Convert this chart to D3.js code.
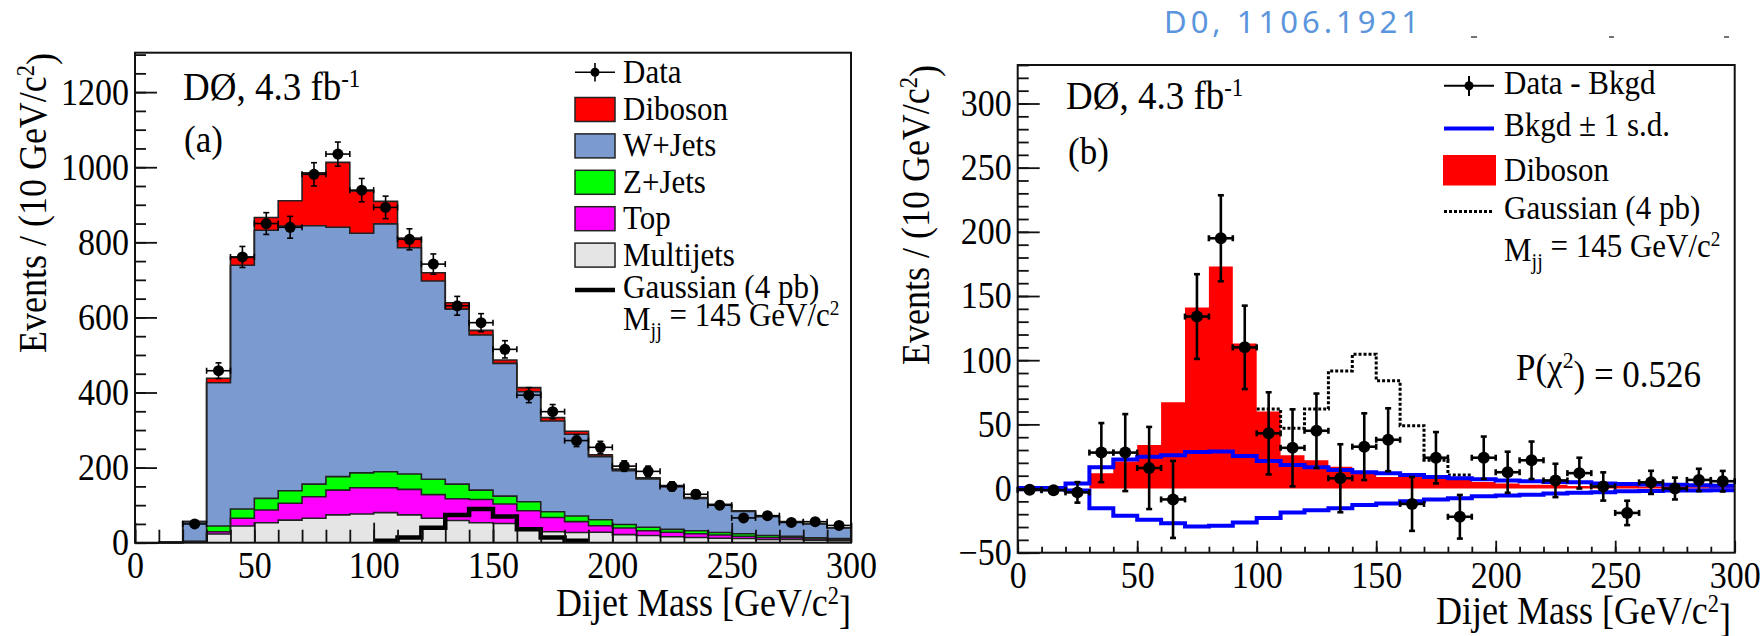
<!DOCTYPE html>
<html>
<head>
<meta charset="utf-8">
<script src="https://cdn.jsdelivr.net/npm/d3@7"></script>
<style>
  body { margin: 0; background: #fff; }
  text { font-family: "Liberation Serif", "Times New Roman", serif; fill: #000; }
</style>
</head>
<body>
<svg id="chart" width="1764" height="636"></svg>
<script>
// bins of 10 GeV/c^2, low edges
const binLow = [0,10,20,30,40,50,60,70,80,90,100,110,120,130,140,150,160,170,180,190,200,210,220,230,240,250,260,270,280,290];

// (a) stacked backgrounds, events per bin
const multijets = [0,1,3,23,44.5,53,60,65,74,76.5,80,74,65,59,53,51,35.5,29,27,28,21.6,19,16,14,12,11,8.6,8.6,6.5,5.4];
const topQuark  = [0,0,0,6,20.5,34,45,57.5,66,70,66.5,68,63,58,62,52,49.5,38,29,17,17.4,13,12,10,8.5,6,5.4,4.4,3.5,2.1];
const zJets     = [0,0,0,15.5,24.7,31,33.5,33.5,36,39.5,42.5,41,41,39,25,21,24,15.5,15,16,9.5,9,7.6,8,6.5,7,5,4,3,3.5];
const wJets     = [0,0,53,381.5,649.3,714,704.8,688,664,638,660,602.6,528,466,413,353.6,293,241.5,218,168,143.5,129,113.4,86,73,59,50,38,37,28];
const diboson   = [0,0,0,12,21,34,67.3,141,173,113,60,26,22,17,12.5,9,11,9,8,5,4,3,3,2,2,2,1.5,1.5,1,1];

// (a) data
const dataMass   = [25,35,45,55,65,75,85,95,105,115,125,135,145,155,165,175,185,195,205,215,225,235,245,255,265,275,285,295];
const dataCounts = [50,458,761,850,840,981,1035,939,893,808,742,631,586,515,393,349,272,254,204,190,150,129,100,66,72,54,56,46];
const dataErr    = [7,21,28,29,29,31,32,31,30,28,27,25,24,23,20,19,16,16,14,14,12,11,10,8,8.5,7,7.5,7];

// Gaussian signal (4 pb), bins 100-190
const gaussLow      = [100,110,120,130,140,150,160,170,180];
const gaussian      = [5,14,40,74,90,69.5,35.5,14,5];
const gaussDiboson  = [62,47,62,91.6,104.6,84,49,22,10.5];

// (b) data - bkgd
const diffMass = [5,15,25,35,45,55,65,75,85,95,105,115,125,135,145,155,165,175,185,195,205,215,225,235,245,255,265,275,285,295];
const diffVals = [-1,-1.3,-3,28,28,16,-8.5,134,195,110,43,31.7,45,8,32.6,38,-12,24,-22,24,12.7,22,6.3,12,1.6,-19,4.8,0,6.7,5.7];
const diffErr  = [0,0,8,23,30,32,30,33,33.5,32.5,32,30,29,26.5,26,24.5,21,20,17,16.5,16,14.6,13,12,11,9.5,9,8.5,8.7,8];
const bkgUp    = [0.5,0.5,4,16.6,22.7,24.8,25.9,28.5,28.8,25.4,21.5,18.4,16.6,14.5,12.7,12,10.5,9,8,7.3,6.3,5.7,5,4.8,4,3.5,3.2,2.9,2.5,2.2];
const bkgDown  = [-0.5,-0.5,-1.5,-15.4,-21.3,-24.4,-27,-29.6,-29,-26.4,-23,-18.7,-17,-15.4,-12.8,-11.7,-10,-8.5,-7.6,-6,-5.4,-4.8,-3.8,-3.2,-2.9,-2.2,-1.9,-1.6,-1.6,-1.3];

const colors = { multijets: '#e5e5e5', top: '#ff00ff', zjets: '#00ff00', wjets: '#7a9ad0', diboson: '#ff0000' };

const svg = d3.select('#chart');
const binW = 10;
const stretch = 1.1;   // glyphs in the scan are a bit taller than wide

// step points for a histogram
const steps = (lows, vals) => lows.flatMap((b, i) => [[b, vals[i]], [b + binW, vals[i]]]);

function txt(g, x, y, size, anchor, rot) {
  return g.append('text')
    .attr('transform', `translate(${x},${y})${rot ? ' rotate(-90)' : ''} scale(1,${stretch})`)
    .attr('font-size', size).attr('text-anchor', anchor || 'start');
}
function sup(t, s, base) {
  t.append('tspan').text(base);
  t.append('tspan').attr('font-size', '62%').attr('dy', '-0.5em').text(s);
}
function mjj(g, x, y, size) {
  const t = txt(g, x, y, size);
  t.append('tspan').text('M');
  t.append('tspan').attr('font-size', '65%').attr('dy', '0.35em').text('jj');
  t.append('tspan').attr('dy', '-0.35em').text(' = 145 GeV/c');
  t.append('tspan').attr('font-size', '62%').attr('dy', '-0.5em').text('2');
}

function axes(g, x, y, o) {
  const bottom = y.range()[0], left = x.range()[0];
  g.append('g').attr('transform', `translate(${left},0)`)
    .call(d3.axisLeft(y).tickValues(o.yMajor).tickSizeInner(-22).tickSizeOuter(0).tickPadding(6).tickFormat(d3.format('d')));
  g.append('g').attr('transform', `translate(${left},0)`)
    .call(d3.axisLeft(y).tickValues(o.yMinor).tickSizeInner(-11).tickSizeOuter(0).tickFormat(''));
  g.append('g').attr('transform', `translate(0,${bottom})`)
    .call(d3.axisBottom(x).tickValues([0,50,100,150,200,250,300]).tickSizeInner(-o.xMajorLen).tickSizeOuter(0).tickPadding(8).tickFormat(d3.format('d')));
  g.append('g').attr('transform', `translate(0,${bottom})`)
    .call(d3.axisBottom(x).tickValues(binLow).tickSizeInner(-o.xMinorLen).tickSizeOuter(0).tickFormat(''));
  g.selectAll('.tick line').attr('stroke', '#111').attr('stroke-width', 1.8);
  g.selectAll('.domain').remove();
  g.selectAll('.tick text').attr('font-family', '"Liberation Serif", serif').attr('font-size', 34)
    .attr('fill', '#111').attr('transform', `scale(1,${stretch})`);
  g.append('rect').attr('x', left).attr('y', y.range()[1])
    .attr('width', x.range()[1] - left).attr('height', bottom - y.range()[1])
    .attr('fill', 'none').attr('stroke', '#111').attr('stroke-width', 2);
}

function points(g, x, y, mass, vals, errs, r, lw) {
  const p = g.append('g').attr('stroke', '#000').attr('stroke-width', lw);
  mass.forEach((m, i) => {
    const cx = x(m), cy = y(vals[i]);
    p.append('line').attr('x1', x(m - 5)).attr('x2', x(m + 5)).attr('y1', cy).attr('y2', cy);
    p.append('line').attr('x1', x(m - 5)).attr('x2', x(m - 5)).attr('y1', cy - 3).attr('y2', cy + 3);
    p.append('line').attr('x1', x(m + 5)).attr('x2', x(m + 5)).attr('y1', cy - 3).attr('y2', cy + 3);
    if (errs[i] > 0) {
      const t = y(vals[i] + errs[i]), b = y(vals[i] - errs[i]);
      p.append('line').attr('x1', cx).attr('x2', cx).attr('y1', t).attr('y2', b);
      p.append('line').attr('x1', cx - 3).attr('x2', cx + 3).attr('y1', t).attr('y2', t);
      p.append('line').attr('x1', cx - 3).attr('x2', cx + 3).attr('y1', b).attr('y2', b);
    }
    p.append('circle').attr('cx', cx).attr('cy', cy).attr('r', r).attr('fill', '#000').attr('stroke', 'none');
  });
}

// ---------------- panel (a) ----------------
const xA = d3.scaleLinear().domain([0, 300]).range([135, 851]);
const yA = d3.scaleLinear().domain([0, 1305]).range([542.7, 52.7]);
const gA = svg.append('g');

const keys = ['multijets', 'top', 'zjets', 'wjets', 'diboson'];
const rows = binLow.map((b, i) => ({ multijets: multijets[i], top: topQuark[i], zjets: zJets[i], wjets: wJets[i], diboson: diboson[i] }));
const stacked = d3.stack().keys(keys)(rows);

const area = d3.area().x(p => xA(p.x)).y0(p => yA(p.y0)).y1(p => yA(p.y1));
const lineA = d3.line().x(p => xA(p.x)).y(p => yA(p.y1));
stacked.forEach(layer => {
  layer.pts = layer.flatMap((d, i) => [
    { x: binLow[i], y0: d[0], y1: d[1] }, { x: binLow[i] + binW, y0: d[0], y1: d[1] }]);
  gA.append('path').attr('d', area(layer.pts)).attr('fill', colors[layer.key]).attr('stroke', 'none');
});
stacked.forEach(layer => {
  gA.append('path').attr('d', lineA(layer.pts)).attr('fill', 'none').attr('stroke', '#222').attr('stroke-width', 1.6);
});

gA.append('path').attr('d', d3.line().x(d => xA(d[0])).y(d => yA(d[1]))(steps(gaussLow, gaussian)))
  .attr('fill', 'none').attr('stroke', '#000').attr('stroke-width', 4.5);

axes(gA, xA, yA, { yMajor: [0,200,400,600,800,1000,1200], yMinor: d3.range(0, 1301, 50), xMajorLen: 20, xMinorLen: 13 });
points(gA, xA, yA, dataMass, dataCounts, dataErr, 5.5, 1.6);

let t = txt(gA, 183, 100, 37); sup(t, '-1', 'DØ, 4.3 fb');
txt(gA, 184, 152, 35).text('(a)');
t = txt(gA, 851, 616, 36, 'end'); sup(t, '2', 'Dijet Mass [GeV/c'); t.append('tspan').attr('dy', '0.5em').text(']');
t = txt(gA, 46, 53, 36, 'end', true);
sup(t, '2', 'Events / (10 GeV/c'); t.append('tspan').attr('dy', '0.5em').text(')');

// legend (a)
const legA = gA.append('g');
const lx = 575, lt = 623, lf = 31;
legA.append('line').attr('x1', lx).attr('x2', lx + 40).attr('y1', 72.3).attr('y2', 72.3).attr('stroke', '#000').attr('stroke-width', 1.6);
legA.append('line').attr('x1', lx + 20).attr('x2', lx + 20).attr('y1', 63).attr('y2', 81.5).attr('stroke', '#000').attr('stroke-width', 1.6);
legA.append('circle').attr('cx', lx + 20).attr('cy', 72.3).attr('r', 4.5);
txt(legA, lt, 83, lf).text('Data');
const legRows = [['diboson', 'Diboson'], ['wjets', 'W+Jets'], ['zjets', 'Z+Jets'], ['top', 'Top'], ['multijets', 'Multijets']];
legRows.forEach(([k, label], i) => {
  const y0 = 97.5 + i * 36.4;
  legA.append('rect').attr('x', lx).attr('y', y0).attr('width', 40).attr('height', 24)
    .attr('fill', colors[k]).attr('stroke', '#222').attr('stroke-width', 1.5);
  txt(legA, lt, y0 + 22.5, lf).text(label);
});
legA.append('line').attr('x1', lx).attr('x2', lx + 40).attr('y1', 290).attr('y2', 290).attr('stroke', '#000').attr('stroke-width', 4.5);
txt(legA, lt, 298, lf).text('Gaussian (4 pb)');
mjj(legA, lt, 330, lf);

// ---------------- panel (b) ----------------
const xB = d3.scaleLinear().domain([0, 300]).range([1017.7, 1734.7]);
const yB = d3.scaleLinear().domain([-50, 330]).range([552.7, 65]);
const gB = svg.append('g');
const stepLine = d3.line().x(d => xB(d[0])).y(d => yB(d[1]));

gB.append('path').attr('d', d3.area().x(d => xB(d[0])).y0(yB(0)).y1(d => yB(d[1]))(steps(binLow, diboson)))
  .attr('fill', '#ff0000');
gB.append('path').attr('d', stepLine(steps(gaussLow, gaussDiboson)))
  .attr('fill', 'none').attr('stroke', '#000').attr('stroke-width', 3).attr('stroke-dasharray', '3,2');
[bkgUp, bkgDown].forEach(v => {
  gB.append('path').attr('d', stepLine(steps(binLow, v)))
    .attr('fill', 'none').attr('stroke', '#0000ff').attr('stroke-width', 4);
});

axes(gB, xB, yB, { yMajor: [-50,0,50,100,150,200,250,300], yMinor: d3.range(-50, 331, 10), xMajorLen: 12, xMinorLen: 6 });
points(gB, xB, yB, diffMass, diffVals, diffErr, 6, 2.6);

t = txt(gB, 1066, 109, 37); sup(t, '-1', 'DØ, 4.3 fb');
txt(gB, 1068, 164, 35).text('(b)');
t = txt(gB, 1731, 624, 36, 'end'); sup(t, '2', 'Dijet Mass [GeV/c'); t.append('tspan').attr('dy', '0.5em').text(']');
t = txt(gB, 929, 65, 36, 'end', true);
sup(t, '2', 'Events / (10 GeV/c'); t.append('tspan').attr('dy', '0.5em').text(')');
t = txt(gB, 1516, 380, 35); sup(t, '2', 'P(χ'); t.append('tspan').attr('dy', '0.5em').text(') = 0.526');

// legend (b)
const legB = gB.append('g');
const bx = 1444, bt = 1504;
legB.append('line').attr('x1', bx).attr('x2', bx + 50).attr('y1', 85.8).attr('y2', 85.8).attr('stroke', '#000').attr('stroke-width', 2);
legB.append('line').attr('x1', bx + 25).attr('x2', bx + 25).attr('y1', 76).attr('y2', 96).attr('stroke', '#000').attr('stroke-width', 2);
legB.append('circle').attr('cx', bx + 25).attr('cy', 85.8).attr('r', 4.5);
txt(legB, bt, 94, lf).text('Data - Bkgd');
legB.append('line').attr('x1', bx).attr('x2', bx + 50).attr('y1', 128.5).attr('y2', 128.5).attr('stroke', '#0000ff').attr('stroke-width', 4);
txt(legB, bt, 136, lf).text('Bkgd ± 1 s.d.');
legB.append('rect').attr('x', bx - 1).attr('y', 155).attr('width', 53).attr('height', 30.5).attr('fill', '#ff0000');
txt(legB, bt, 181, lf).text('Diboson');
legB.append('line').attr('x1', bx).attr('x2', bx + 50).attr('y1', 211.5).attr('y2', 211.5).attr('stroke', '#000').attr('stroke-width', 3).attr('stroke-dasharray', '3,2');
txt(legB, bt, 219, lf).text('Gaussian (4 pb)');
mjj(legB, bt, 261, lf);

// source note
svg.append('text').attr('x', 1164).attr('y', 33).attr('font-size', 31)
  .style('font-family', '"Noto Sans", sans-serif').style('fill', '#5b95dc').attr('letter-spacing', 4)
  .text('D0, 1106.1921');
// clipped glyph remnants at the top edge
[[1471, 1477], [1609, 1614], [1724, 1729]].forEach(([a, b]) =>
  svg.append('line').attr('x1', a).attr('x2', b).attr('y1', 37).attr('y2', 37).attr('stroke', '#444').attr('stroke-width', 1.5));
</script>
</body>
</html>
